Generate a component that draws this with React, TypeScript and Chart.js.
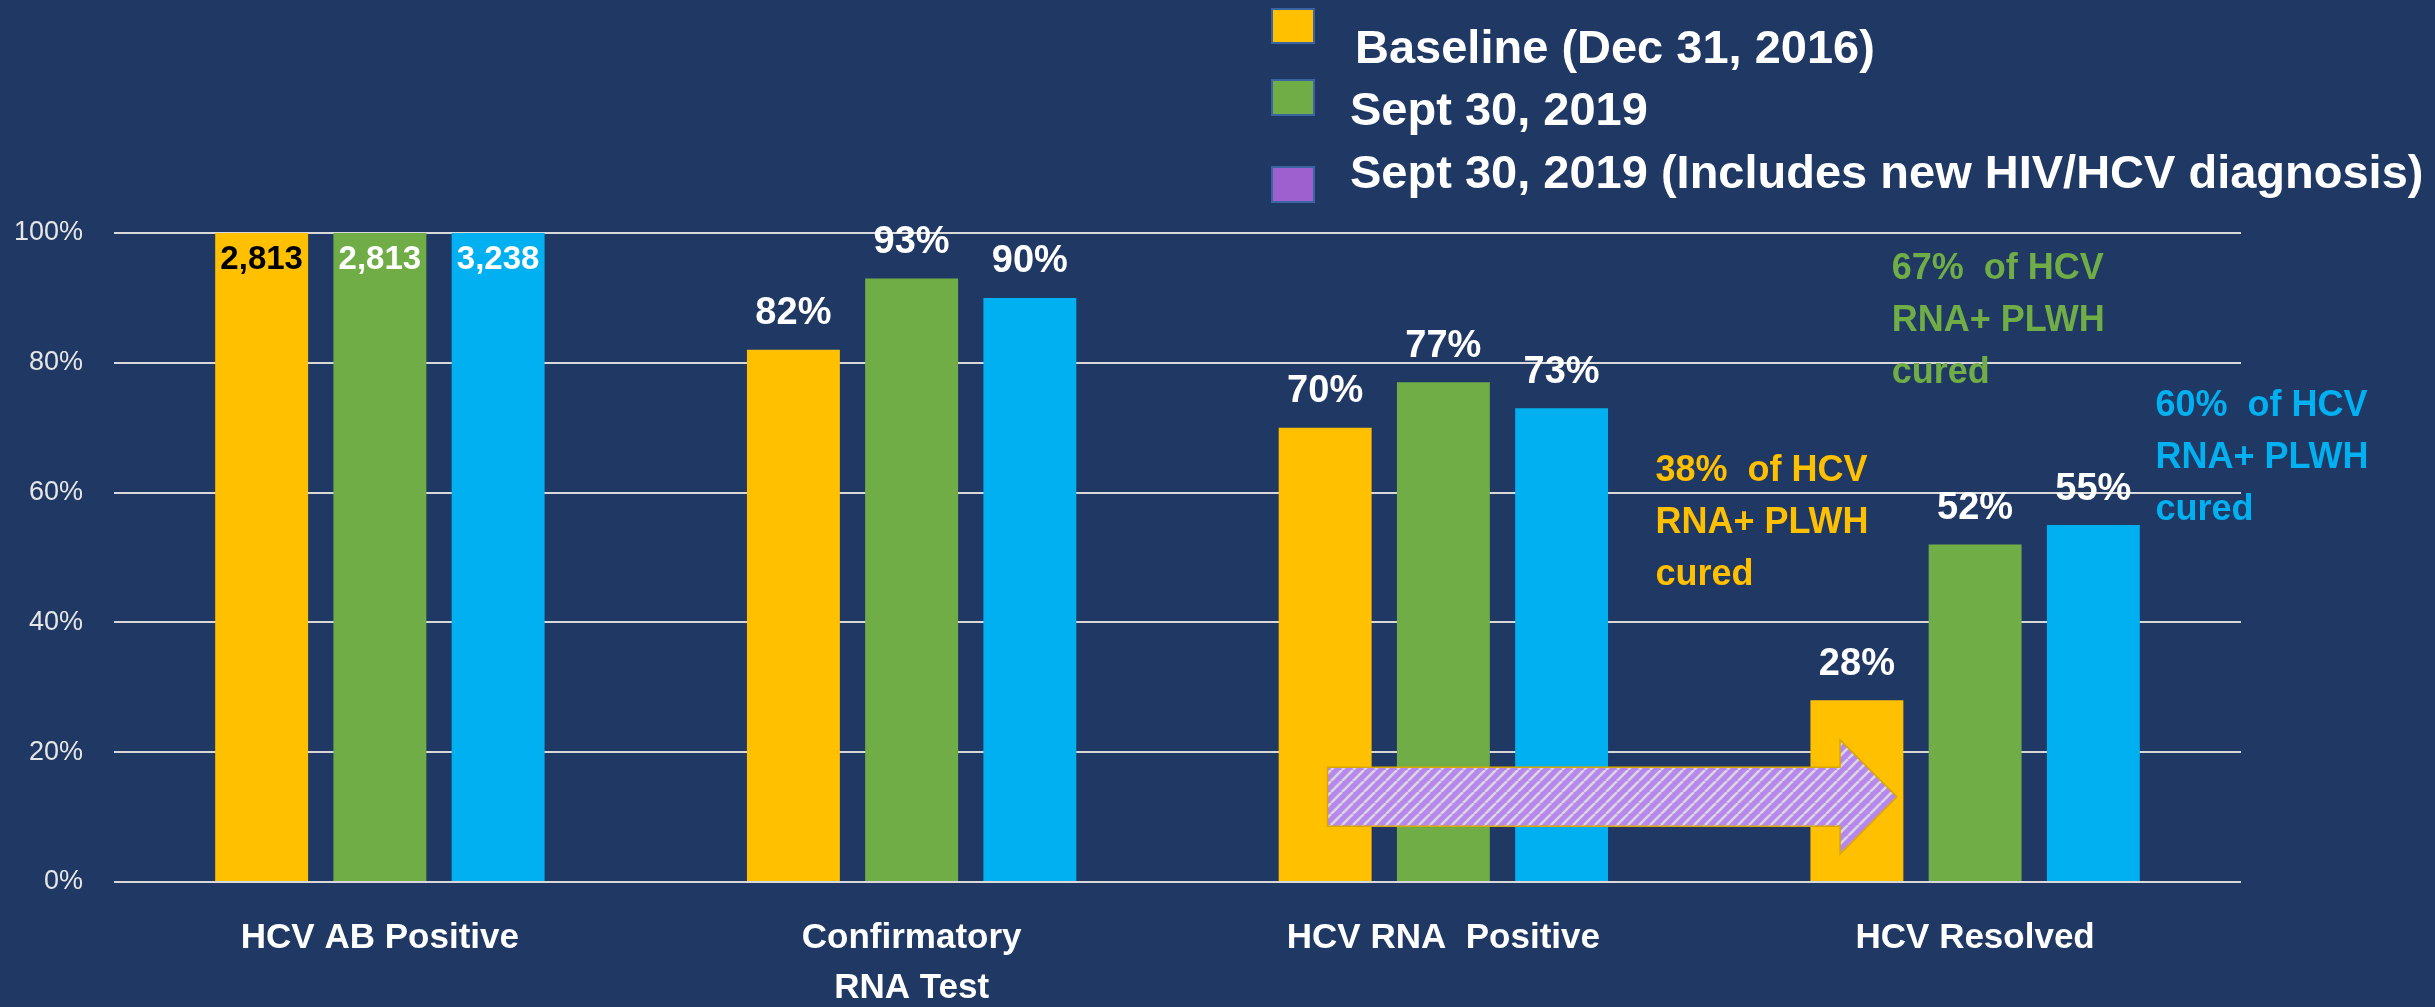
import React, { useEffect, useRef } from 'react';
import { Chart, registerables } from 'chart.js';

Chart.register(...registerables);

// ---- data ----
const categories: string[][] = [
  ['HCV AB Positive'],
  ['Confirmatory', 'RNA Test'],
  ['HCV RNA  Positive'],
  ['HCV Resolved'],
];
const seriesNames = [
  'Baseline (Dec 31, 2016)',
  'Sept 30, 2019',
  'Sept 30, 2019 (Includes new HIV/HCV diagnosis)',
];
const baselineValues = [100, 82, 70, 28];
const sept2019Values = [100, 93, 77, 52];
const sept2019NewValues = [100, 90, 73, 55];
const firstCategoryCounts = ['2,813', '2,813', '3,238'];
const curedNotes = [
  ['38%  of HCV', 'RNA+ PLWH', 'cured'],
  ['67%  of HCV', 'RNA+ PLWH', 'cured'],
  ['60%  of HCV', 'RNA+ PLWH', 'cured'],
];
const yTickValues = [0, 20, 40, 60, 80, 100];

// ---- styles ----
const BG = '#203864';
const FONT = "'Liberation Sans', Arial, sans-serif";
const barColors = ['#FFC000', '#70AD47', '#00B0F0'];
const legendColors = ['#FFC000', '#70AD47', '#9E5FCF'];

function makeStripePattern(ctx: CanvasRenderingContext2D) {
  const P = 11;
  const c = document.createElement('canvas');
  c.width = P;
  c.height = P;
  const g = c.getContext('2d')!;
  g.fillStyle = '#B786EE';
  g.fillRect(0, 0, P, P);
  g.strokeStyle = '#D9D7DC';
  g.lineWidth = 2.6;
  for (let k = -1; k <= 1; k++) {
    g.beginPath();
    g.moveTo(k * P, P);
    g.lineTo(k * P + P, 0);
    g.stroke();
  }
  return ctx.createPattern(c, 'repeat');
}

const bgPlugin = {
  id: 'bgFill',
  beforeDraw(chart: any) {
    const { ctx, width, height } = chart;
    ctx.save();
    ctx.fillStyle = BG;
    ctx.fillRect(0, 0, width, height);
    ctx.restore();
  },
};

const overlayPlugin = {
  id: 'overlay',
  afterDatasetsDraw(chart: any) {
    const ctx: CanvasRenderingContext2D = chart.ctx;
    const xs = chart.scales.x;
    const ys = chart.scales.y;

    // value labels
    chart.data.datasets.forEach((ds: any, di: number) => {
      const meta = chart.getDatasetMeta(di);
      meta.data.forEach((bar: any, i: number) => {
        const v = ds.data[i];
        ctx.save();
        ctx.textAlign = 'center';
        ctx.textBaseline = 'middle';
        if (i === 0) {
          ctx.font = `bold 33px ${FONT}`;
          ctx.fillStyle = di === 0 ? '#000000' : '#FFFFFF';
          ctx.fillText(firstCategoryCounts[di], bar.x, bar.y + 27);
        } else {
          ctx.font = `bold 38px ${FONT}`;
          ctx.fillStyle = '#FFFFFF';
          ctx.fillText(`${v}%`, bar.x, bar.y - 36);
        }
        ctx.restore();
      });
    });

    // hatched arrow from "HCV RNA Positive" to "HCV Resolved"
    const xL = xs.getPixelForValue(1.782);
    const xB = xs.getPixelForValue(2.746);
    const xT = xs.getPixelForValue(2.853);
    const yST = ys.getPixelForValue(17.7);
    const ySB = ys.getPixelForValue(8.6);
    const yHT = ys.getPixelForValue(21.9);
    const yHB = ys.getPixelForValue(4.3);
    const yMid = (yST + ySB) / 2;
    ctx.save();
    ctx.beginPath();
    ctx.moveTo(xL, yST);
    ctx.lineTo(xB, yST);
    ctx.lineTo(xB, yHT);
    ctx.lineTo(xT, yMid);
    ctx.lineTo(xB, yHB);
    ctx.lineTo(xB, ySB);
    ctx.lineTo(xL, ySB);
    ctx.closePath();
    const pat = makeStripePattern(ctx);
    ctx.fillStyle = pat || '#B786EE';
    ctx.fill();
    ctx.strokeStyle = '#D9A800';
    ctx.lineWidth = 1.5;
    ctx.stroke();
    ctx.restore();

    // cured notes
    const notePos = [
      { x: 2.399, y: 63.3 },
      { x: 2.843, y: 94.5 },
      { x: 3.339, y: 73.3 },
    ];
    curedNotes.forEach((lines, ni) => {
      const px = xs.getPixelForValue(notePos[ni].x);
      const py = ys.getPixelForValue(notePos[ni].y);
      ctx.save();
      ctx.font = `bold 36px ${FONT}`;
      ctx.fillStyle = barColors[ni];
      ctx.textAlign = 'left';
      ctx.textBaseline = 'middle';
      lines.forEach((t, li) => ctx.fillText(t, px, py + li * 52));
      ctx.restore();
    });
  },
  afterDraw(chart: any) {
    const ctx: CanvasRenderingContext2D = chart.ctx;
    const squares = [
      { y: 9, h: 34 },
      { y: 80, h: 35 },
      { y: 167, h: 35 },
    ];
    const textY = [50, 112, 175];
    const textX = [1355, 1350, 1350];
    ctx.save();
    seriesNames.forEach((name, i) => {
      ctx.fillStyle = legendColors[i];
      ctx.fillRect(1272, squares[i].y, 42, squares[i].h);
      ctx.strokeStyle = '#3B64A0';
      ctx.lineWidth = 2;
      ctx.strokeRect(1272, squares[i].y, 42, squares[i].h);
      ctx.fillStyle = '#FFFFFF';
      ctx.font = `bold 47px ${FONT}`;
      ctx.textAlign = 'left';
      ctx.textBaseline = 'middle';
      ctx.fillText(name, textX[i], textY[i]);
    });
    ctx.restore();
  },
};

export default function App() {
  const ref = useRef<HTMLCanvasElement>(null);

  useEffect(() => {
    document.body.style.margin = '0';
    document.body.style.background = BG;
    const canvas = ref.current!;
    const chart = new Chart(canvas, {
      type: 'bar',
      data: {
        labels: categories as any,
        datasets: [
          { label: seriesNames[0], data: baselineValues, backgroundColor: barColors[0] },
          { label: seriesNames[1], data: sept2019Values, backgroundColor: barColors[1] },
          { label: seriesNames[2], data: sept2019NewValues, backgroundColor: barColors[2] },
        ],
      },
      options: {
        animation: false,
        responsive: false,
        devicePixelRatio: 1,
        layout: { padding: { top: 233, right: 194, left: 0, bottom: 0 } },
        datasets: {
          bar: { categoryPercentage: 0.667, barPercentage: 0.786, borderWidth: 0 },
        } as any,
        plugins: {
          legend: { display: false },
          tooltip: { enabled: false },
          title: { display: false },
        },
        scales: {
          x: {
            grid: { display: false, drawTicks: false },
            border: { display: false },
            ticks: {
              color: '#FFFFFF',
              font: { family: FONT, size: 35, weight: 'bold', lineHeight: 50 / 35 },
              padding: 31,
              maxRotation: 0,
              autoSkip: false,
            },
            afterFit: (s: any) => {
              s.height = 125;
            },
          },
          y: {
            min: 0,
            max: 100,
            afterBuildTicks: (s: any) => {
              s.ticks = yTickValues.map((v) => ({ value: v }));
            },
            grid: { color: '#D9D9D9', lineWidth: 2, drawTicks: false },
            border: { display: false },
            ticks: {
              color: '#E6E6E6',
              font: { family: FONT, size: 27 },
              padding: 31,
              callback: (v: any) => `${v}%`,
            },
            afterFit: (s: any) => {
              s.width = 114;
            },
          },
        },
      },
      plugins: [bgPlugin, overlayPlugin],
    });
    return () => chart.destroy();
  }, []);

  return (
    <div style={{ position: 'absolute', left: 0, top: 0, width: 2435, height: 1007, background: BG }}>
      <canvas ref={ref} width={2435} height={1007} style={{ display: 'block', width: 2435, height: 1007 }} />
    </div>
  );
}
